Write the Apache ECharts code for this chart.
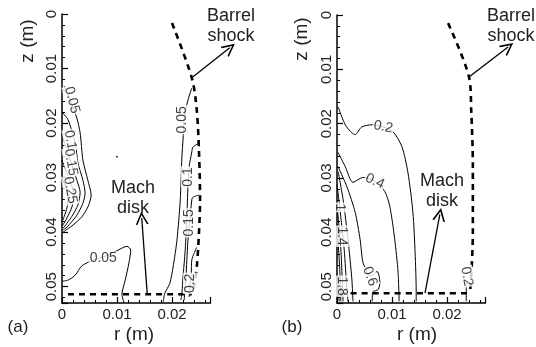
<!DOCTYPE html>
<html>
<head>
<meta charset="utf-8">
<script src="https://cdn.jsdelivr.net/npm/echarts@6/dist/echarts.min.js"></script>
<style>html,body{margin:0;padding:0;background:#fff}#c{width:536px;height:347px}</style>
</head>
<body>
<div id="c"></div>
<script>
// ---------- axes ----------
const rTicks = [0, 0.01, 0.02];
const zTicks = [0, 0.01, 0.02, 0.03, 0.04, 0.05];
const rMax = 0.027;
const zMax = 0.053;

// ---------- panel (a): contour lines [r, z] ----------
const a_up005 = [[0.0004,0.0132],[0.0015,0.0158],[0.0027,0.0191],[0.0033,0.0218],[0.0038,0.0268],[0.0047,0.0305],[0.0053,0.0332],[0.0047,0.0354],[0.0036,0.0372],[0.002,0.0387],[0.0002,0.04]];
const a_up010 = [[0,0.018],[0.0011,0.0194],[0.0024,0.0237],[0.0029,0.0273],[0.0038,0.0305],[0.0042,0.0328],[0.0038,0.0347],[0.0027,0.0369],[0.0009,0.0391],[0.0002,0.0396]];
const a_up015 = [[0,0.0222],[0.0015,0.0268],[0.0027,0.0305],[0.0033,0.0327],[0.0029,0.035],[0.0018,0.0371],[0.0002,0.0393]];
const a_up020 = [[0,0.0268],[0.0015,0.0308],[0.0022,0.0332],[0.0018,0.0354],[0.0007,0.0378],[0,0.0389]];
const a_up025 = [[0,0.0301],[0.0011,0.0332],[0.0009,0.0356],[0,0.0382]];
const a_low005 = [[0,0.049],[0.0011,0.0488],[0.0024,0.0479],[0.0036,0.0462],[0.0055,0.0452],[0.0085,0.0442],[0.0102,0.0433],[0.0118,0.0426],[0.0125,0.0433],[0.0122,0.0455],[0.0115,0.0488],[0.0109,0.0514],[0.0113,0.053]];
const a_sh005 = [[0.0236,0.0136],[0.0229,0.0158],[0.0222,0.0194],[0.022,0.0231],[0.0218,0.0262],[0.0215,0.0341],[0.0209,0.0415],[0.0202,0.0464],[0.0196,0.0494],[0.0187,0.0512],[0.0184,0.0528]];
const a_sh010 = [[0.0249,0.0237],[0.0238,0.0244],[0.0236,0.0253],[0.0231,0.0281],[0.0229,0.0317],[0.0227,0.0372],[0.0224,0.0433],[0.022,0.0483],[0.0218,0.0512],[0.0216,0.0525]];
const a_sh015 = [[0.0249,0.0332],[0.0238,0.0336],[0.0236,0.0341],[0.0229,0.0415],[0.0227,0.0451],[0.0225,0.0488],[0.0222,0.0525]];
const a_sh020 = [[0.0245,0.0428],[0.0236,0.0451],[0.0235,0.0475],[0.0231,0.0519]];
const a_dot = [[0.01,0.0262]];
const a_labels = [[0.0018,0.0158,'0.05'],[0.0015,0.0231,'0.1'],[0.0016,0.0272,'0.15'],[0.0015,0.0323,'0.25'],[0.0075,0.0448,'0.05'],[0.0218,0.0194,'0.05'],[0.0229,0.0299,'0.1'],[0.0231,0.0383,'0.15'],[0.0233,0.0494,'0.2']];
const a_labelRot = [-75, -80, -80, -80, 0, 90, 90, 90, 90];
const a_barrel = [[0.02,0.00165],[0.0236,0.0117],[0.0245,0.0176],[0.0249,0.025],[0.0251,0.0341],[0.0249,0.0402],[0.0245,0.0464],[0.0238,0.0512]];
const a_mach = [[0.0011,0.0514],[0.0236,0.0514]];
const a_arrowMach = [[0.0155,0.0514],[0.0145,0.0374]];
const a_arrowBarrel = [[0.0236,0.0117],[0.0305,0.0062]];

// ---------- panel (b) ----------
const b_c02 = [[0.0002,0.0169],[0.0015,0.0202],[0.0027,0.0217],[0.0033,0.022],[0.0045,0.0206],[0.0064,0.0202],[0.0084,0.0206],[0.0102,0.0215],[0.0118,0.0242],[0.0129,0.029],[0.0138,0.0363],[0.0142,0.0437],[0.0144,0.051],[0.0144,0.0527]];
const b_c04 = [[0.0002,0.0253],[0.0015,0.0279],[0.0029,0.0308],[0.0047,0.0299],[0.0069,0.0306],[0.0087,0.0325],[0.0096,0.0352],[0.0105,0.0413],[0.0111,0.0473],[0.0113,0.0527]];
const b_c06 = [[0.0002,0.0279],[0.0018,0.0316],[0.0033,0.0363],[0.0042,0.0413],[0.0047,0.0455],[0.0053,0.0468],[0.006,0.0481],[0.0073,0.0472],[0.0078,0.0492],[0.0075,0.0505],[0.0065,0.051],[0.0064,0.0527]];
const b_c08 = [[0.0002,0.0288],[0.0011,0.0339],[0.002,0.0413],[0.0027,0.0486],[0.0029,0.0527]];
const b_c10 = [[0,0.0312],[0.0005,0.0354],[0.0013,0.0431],[0.0018,0.0505],[0.002,0.0527]];
const b_c12 = [[0,0.0349],[0.0007,0.0431],[0.0011,0.0527]];
const b_c14 = [[0,0.0385],[0.0005,0.0468],[0.0007,0.0527]];
const b_c18 = [[0,0.0477],[0.0004,0.0527]];
const b_c02r = [[0.0235,0.0492],[0.0235,0.0527]];
const b_labels = [[0.0084,0.0206,'0.2'],[0.0069,0.0306,'0.4'],[0.006,0.0481,'0.6'],[0.0005,0.0354,'1'],[0.0009,0.0407,'1.4'],[0.0009,0.0499,'1.8'],[0.0236,0.0481,'0.2']];
const b_labelRot = [-12, -25, -70, -90, -90, -90, -80];
const b_barrel = [[0.0202,0.0015],[0.024,0.0114],[0.0244,0.0174],[0.0247,0.0279],[0.0247,0.04],[0.0245,0.0462],[0.0242,0.051]];
const b_mach = [[0.0005,0.0512],[0.0242,0.0512]];
const b_arrowMach = [[0.016,0.0512],[0.0187,0.0367]];
const b_arrowBarrel = [[0.024,0.0114],[0.0311,0.0059]];

const a_contours = [a_up005,a_up010,a_up015,a_up020,a_up025,a_low005,a_sh005,a_sh010,a_sh015,a_sh020];
const b_contours = [b_c02,b_c04,b_c06,b_c08,b_c10,b_c12,b_c14,b_c18,b_c02r];

const FONT = 'Liberation Sans, Arial, Helvetica, sans-serif';
const arrowPath = 'path://M5,0 L10,12 L8.6,12 L5,3.2 L1.4,12 L0,12 Z';

function xAxisCfg(gi){
  return {gridIndex: gi, type:'value', min:0, max:rMax, interval:0.01,
    axisLine:{show:true, onZero:false, lineStyle:{color:'#000', width:1.5}},
    axisTick:{show:true, inside:true, length:6, lineStyle:{color:'#000', width:1.2}},
    minorTick:{show:true, splitNumber:5, length:3, lineStyle:{color:'#000', width:1}},
    splitLine:{show:false},
    axisLabel:{color:'#222', fontSize:15, fontFamily:FONT, margin:4,
      formatter: v => rTicks.indexOf(+v.toFixed(3))>=0 ? String(+v.toFixed(3)) : ''}
  };
}
function yAxisCfg(gi){
  return {gridIndex: gi, type:'value', min:0, max:zMax, interval:0.01, inverse:true,
    axisLine:{show:true, onZero:false, lineStyle:{color:'#000', width:1.5}},
    axisTick:{show:true, inside:true, length:6, lineStyle:{color:'#000', width:1.2}},
    minorTick:{show:true, splitNumber:5, length:3, lineStyle:{color:'#000', width:1}},
    splitLine:{show:false},
    axisLabel:{color:'#222', fontSize:15, fontFamily:FONT, margin:3, rotate:90, showMaxLabel:false,
      formatter: v => zTicks.indexOf(+v.toFixed(3))>=0 ? String(+v.toFixed(3)) : ''}
  };
}
function lineSeries(data, gi, extra){
  return Object.assign({type:'line', xAxisIndex:gi, yAxisIndex:gi, data:data, showSymbol:false,
    symbol:'none', smooth:0.25, clip:false, silent:true, animation:false,
    lineStyle:{color:'#000', width:1}}, extra||{});
}
function dashSeries(data, gi){
  return lineSeries(data, gi, {smooth:0.3, lineStyle:{color:'#000', width:2.6, type:[6,5]}});
}
function arrowSeries(data, gi){
  return {type:'lines', coordinateSystem:'cartesian2d', xAxisIndex:gi, yAxisIndex:gi, clip:false, silent:true, animation:false,
    symbol:['none', arrowPath], symbolSize:[9,13], z:6,
    lineStyle:{color:'#000', width:1.3, opacity:1, curveness:0},
    data:[{coords:[data[0], data[1]]}]};
}
function labelSeries(labels, rots, gi){
  return {type:'scatter', xAxisIndex:gi, yAxisIndex:gi, symbolSize:0, silent:true, animation:false, clip:false, z:5,
    data: labels.map((d,i)=>({value:[d[0],d[1]], label:{show:true, position:'inside', formatter:d[2], rotate:rots[i],
      color:'#111', fontSize:14, fontFamily:FONT, backgroundColor:'#fff', padding:[0,1]}}))};
}

const series = [];
a_contours.forEach(c=>series.push(lineSeries(c,0)));
b_contours.forEach(c=>series.push(lineSeries(c,1)));
series.push(dashSeries(a_barrel,0), dashSeries(a_mach,0), dashSeries(b_barrel,1), dashSeries(b_mach,1));
series.push(labelSeries(a_labels,a_labelRot,0), labelSeries(b_labels,b_labelRot,1));
series.push({type:'scatter', xAxisIndex:0, yAxisIndex:0, data:a_dot, symbolSize:2, itemStyle:{color:'#000'}, silent:true, animation:false});
series.push(arrowSeries(a_arrowMach,0), arrowSeries(a_arrowBarrel,0), arrowSeries(b_arrowMach,1), arrowSeries(b_arrowBarrel,1));

function txt(x, y, s, size, rot){
  return {type:'text', x:x, y:y, rotation: rot||0, z:10,
    style:{text:s, fill:'#222', font: size+'px '+FONT, textAlign:'center', textVerticalAlign:'middle', lineHeight: size+2}};
}

const chart = echarts.init(document.getElementById('c'), null, {renderer:'canvas'});
chart.setOption({
  animation:false,
  backgroundColor:'#fff',
  grid:[{left:62, top:14, width:148.5, height:289},{left:337, top:15, width:148.5, height:288}],
  xAxis:[xAxisCfg(0), xAxisCfg(1)],
  yAxis:[yAxisCfg(0), yAxisCfg(1)],
  series: series,
  graphic:[
    txt(28, 41, 'z (m)', 19, Math.PI/2),
    txt(302, 39, 'z (m)', 19, Math.PI/2),
    txt(134, 335, 'r (m)', 19),
    txt(417, 335, 'r (m)', 19),
    txt(18, 327, '(a)', 17),
    txt(292, 327, '(b)', 17),
    txt(231, 26, 'Barrel\nshock', 18),
    txt(511, 26, 'Barrel\nshock', 18),
    txt(133, 198, 'Mach\ndisk', 18),
    txt(442, 191, 'Mach\ndisk', 18)
  ]
});
</script>
</body>
</html>
